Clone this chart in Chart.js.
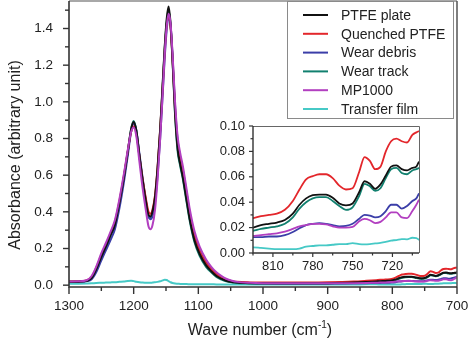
<!DOCTYPE html>
<html>
<head>
<meta charset="utf-8">
<script src="https://cdn.jsdelivr.net/npm/chart.js@4/dist/chart.umd.min.js"></script>
<style>
  html, body { margin: 0; padding: 0; background: #fff; }
  #wrap { position: relative; width: 474px; height: 354px; }
  #main { position: absolute; left: 0; top: 0; }
  #inset { position: absolute; left: 190px; top: 110px; }
</style>
</head>
<body>
<div id="wrap">
  <canvas id="main" width="474" height="354"></canvas>
  <canvas id="inset" width="240" height="175"></canvas>
</div>
<script>
// wave numbers (cm-1), shared by every spectrum
const wavenumber = [
  1300, 1285, 1272, 1265, 1258, 1250, 1243, 1236, 1229, 1222, 1215, 1209, 1204, 1200, 1196, 1191, 1186,
  1181, 1177, 1174, 1171, 1167, 1163, 1159, 1155, 1152, 1149, 1146, 1143, 1140, 1136, 1132, 1128, 1124,
  1118, 1113, 1106, 1098, 1088, 1080, 1072, 1064, 1057, 1048, 1040, 1020, 1000, 950, 900, 860, 840,
  825, 819, 813, 807, 801, 795, 790, 785, 780, 775, 770, 765, 760, 755, 750, 745, 741, 737, 733, 729,
  725, 721, 717, 713, 709, 705, 702, 700
];

const ptfePlate = [
  0.018, 0.019, 0.024, 0.038, 0.085, 0.155, 0.21, 0.27, 0.33, 0.45, 0.59, 0.73, 0.85, 0.89, 0.845, 0.705, 0.57,
  0.455, 0.382, 0.375, 0.40, 0.48, 0.64, 0.85, 1.11, 1.30, 1.45, 1.52, 1.43, 1.24, 0.94, 0.745, 0.66, 0.59,
  0.46, 0.355, 0.245, 0.17, 0.108, 0.076, 0.05, 0.034, 0.024, 0.017, 0.014, 0.011, 0.010, 0.010, 0.011, 0.014, 0.017,
  0.020, 0.022, 0.023, 0.024, 0.026, 0.031, 0.038, 0.043, 0.0455, 0.046, 0.046, 0.0435, 0.039, 0.0375, 0.039, 0.048, 0.0565, 0.0545, 0.0505, 0.054,
  0.061, 0.068, 0.069, 0.066, 0.065, 0.067, 0.068, 0.072
];
const quenchedPtfe = [
  0.020, 0.021, 0.027, 0.045, 0.095, 0.165, 0.22, 0.28, 0.345, 0.46, 0.60, 0.735, 0.835, 0.865, 0.83, 0.70, 0.575,
  0.47, 0.40, 0.39, 0.41, 0.49, 0.645, 0.85, 1.09, 1.28, 1.42, 1.48, 1.41, 1.24, 0.96, 0.77, 0.685, 0.615,
  0.485, 0.38, 0.265, 0.185, 0.12, 0.086, 0.059, 0.041, 0.030, 0.022, 0.018, 0.015, 0.014, 0.014, 0.016, 0.020, 0.024,
  0.0275, 0.029, 0.030, 0.031, 0.034, 0.041, 0.050, 0.058, 0.0605, 0.062, 0.062, 0.059, 0.053, 0.050, 0.051, 0.064, 0.0755, 0.0725, 0.066, 0.068,
  0.080, 0.088, 0.090, 0.088, 0.087, 0.093, 0.095, 0.096
];
const wearDebris = [
  0.017, 0.018, 0.022, 0.032, 0.07, 0.135, 0.19, 0.245, 0.305, 0.42, 0.565, 0.71, 0.835, 0.88, 0.845, 0.715, 0.58,
  0.46, 0.38, 0.36, 0.375, 0.45, 0.60, 0.80, 1.05, 1.24, 1.39, 1.46, 1.42, 1.26, 0.98, 0.79, 0.70, 0.63,
  0.50, 0.39, 0.275, 0.19, 0.125, 0.09, 0.062, 0.043, 0.031, 0.021, 0.016, 0.012, 0.010, 0.009, 0.009, 0.010, 0.011,
  0.0125, 0.0125, 0.013, 0.013, 0.014, 0.0165, 0.0195, 0.022, 0.023, 0.0235, 0.023, 0.022, 0.021, 0.0213, 0.023, 0.027, 0.030, 0.0295, 0.028, 0.029,
  0.033, 0.038, 0.038, 0.035, 0.037, 0.041, 0.043, 0.047
];
const wearTrack = [
  0.018, 0.019, 0.024, 0.038, 0.085, 0.155, 0.21, 0.27, 0.33, 0.45, 0.59, 0.73, 0.85, 0.895, 0.845, 0.70, 0.563,
  0.445, 0.372, 0.365, 0.39, 0.47, 0.63, 0.84, 1.10, 1.29, 1.43, 1.50, 1.42, 1.23, 0.93, 0.73, 0.65, 0.58,
  0.45, 0.345, 0.235, 0.16, 0.10, 0.07, 0.045, 0.030, 0.021, 0.015, 0.012, 0.010, 0.009, 0.009, 0.010, 0.012, 0.015,
  0.0175, 0.019, 0.020, 0.021, 0.023, 0.028, 0.035, 0.040, 0.043, 0.044, 0.044, 0.041, 0.037, 0.034, 0.036, 0.045, 0.0545, 0.0525, 0.049, 0.051,
  0.059, 0.066, 0.067, 0.063, 0.062, 0.065, 0.066, 0.067
];
const mp1000 = [
  0.020, 0.021, 0.028, 0.05, 0.10, 0.175, 0.23, 0.29, 0.355, 0.47, 0.61, 0.74, 0.835, 0.86, 0.815, 0.67, 0.525,
  0.405, 0.32, 0.305, 0.325, 0.41, 0.58, 0.80, 1.06, 1.26, 1.41, 1.48, 1.43, 1.27, 1.00, 0.81, 0.72, 0.65,
  0.52, 0.41, 0.295, 0.21, 0.14, 0.10, 0.07, 0.049, 0.035, 0.024, 0.018, 0.013, 0.011, 0.010, 0.010, 0.011, 0.012,
  0.0135, 0.014, 0.0148, 0.0155, 0.0168, 0.019, 0.021, 0.022, 0.023, 0.023, 0.0225, 0.021, 0.020, 0.020, 0.0205, 0.025, 0.0268, 0.0258, 0.0235, 0.0245,
  0.028, 0.032, 0.032, 0.028, 0.0275, 0.033, 0.038, 0.042
];
const transferFilm = [
  0.008, 0.008, 0.009, 0.010, 0.012, 0.013, 0.014, 0.015, 0.016, 0.018, 0.020, 0.023, 0.024, 0.022, 0.019, 0.016, 0.014,
  0.013, 0.013, 0.013, 0.014, 0.016, 0.018, 0.021, 0.026, 0.030, 0.028, 0.022, 0.016, 0.012, 0.009, 0.008, 0.007, 0.006,
  0.006, 0.005, 0.005, 0.005, 0.005, 0.005, 0.004, 0.004, 0.004, 0.004, 0.004, 0.004, 0.004, 0.004, 0.004, 0.004, 0.0045,
  0.0045, 0.004, 0.0035, 0.003, 0.003, 0.003, 0.0035, 0.005, 0.0055, 0.006, 0.006, 0.0065, 0.007, 0.007, 0.0078, 0.007, 0.0068, 0.007, 0.0075, 0.008,
  0.0088, 0.0098, 0.0102, 0.011, 0.0108, 0.012, 0.0118, 0.0103
];

const seriesNames = ['PTFE plate', 'Quenched PTFE', 'Wear debris', 'Wear track', 'MP1000', 'Transfer film'];
const seriesValues = [ptfePlate, quenchedPtfe, wearDebris, wearTrack, mp1000, transferFilm];
const seriesColors = ['#111111', '#e3262b', '#3b3ea8', '#11806f', '#b23fc0', '#46c9c6'];
const drawOrder = [1, 2, 3, 4, 0, 5]; // lower = drawn on top

const mainXTicks = [1300, 1200, 1100, 1000, 900, 800, 700];
const mainXMinor = [1250, 1150, 1050, 950, 850, 750];
const mainYTicks = [0, 0.2, 0.4, 0.6, 0.8, 1.0, 1.2, 1.4];
const mainYLabels = ['0.0', '0.2', '0.4', '0.6', '0.8', '1.0', '1.2', '1.4'];
const mainYMinor = [0.1, 0.3, 0.5, 0.7, 0.9, 1.1, 1.3, 1.5];

const insetXTicks = [810, 780, 750, 720];
const insetXMinor = [825, 795, 765, 735, 705];
const insetYTicks = [0, 0.02, 0.04, 0.06, 0.08, 0.10];
const insetYLabels = ['0.00', '0.02', '0.04', '0.06', '0.08', '0.10'];
const insetYMinor = [0.01, 0.03, 0.05, 0.07, 0.09];

const FONT = '"Liberation Sans", Arial, Helvetica, sans-serif';
const INK = '#222';

function makeDatasets(width){
  return seriesNames.map((name, k) => ({
    label: name,
    data: wavenumber.map((w, i) => ({x: w, y: seriesValues[k][i]})),
    borderColor: seriesColors[k],
    borderWidth: width,
    order: drawOrder[k],
    pointRadius: 0,
    fill: false,
    cubicInterpolationMode: 'monotone'
  }));
}

function tickMarks(ctx, scale, values, len, horizontal){
  values.forEach(v => {
    const p = scale.getPixelForValue(v);
    ctx.beginPath();
    if(horizontal){ ctx.moveTo(p, scale.top); ctx.lineTo(p, scale.top + len); }
    else { ctx.moveTo(scale.right, p); ctx.lineTo(scale.right - len, p); }
    ctx.stroke();
  });
}

const mainFrame = {
  id: 'mainFrame',
  afterDatasetsDraw(chart){
    const {ctx, chartArea: a, scales: {x, y}} = chart;
    ctx.save();
    // top + right border
    ctx.strokeStyle = '#a8a8a8'; ctx.lineWidth = 2;
    ctx.beginPath(); ctx.moveTo(a.left, a.top); ctx.lineTo(a.right, a.top); ctx.stroke();
    ctx.strokeStyle = '#555'; ctx.lineWidth = 1.5;
    ctx.beginPath(); ctx.moveTo(a.right, a.top); ctx.lineTo(a.right, a.bottom); ctx.stroke();
    // axes
    ctx.strokeStyle = '#333'; ctx.lineWidth = 1.6;
    ctx.beginPath(); ctx.moveTo(a.left, a.top); ctx.lineTo(a.left, a.bottom); ctx.lineTo(a.right, a.bottom); ctx.stroke();
    ctx.lineWidth = 1.4;
    tickMarks(ctx, x, mainXTicks, 7, true);
    tickMarks(ctx, x, mainXMinor, 4, true);
    tickMarks(ctx, y, mainYTicks, 6, false);
    tickMarks(ctx, y, mainYMinor, 4, false);

    // axis titles
    ctx.fillStyle = INK;
    ctx.font = '16px ' + FONT;
    ctx.textBaseline = 'middle';
    ctx.save();
    ctx.translate(16, 155);
    ctx.rotate(-Math.PI / 2);
    ctx.textAlign = 'center';
    ctx.fillText('Absorbance (arbitrary unit)', 0, 0);
    ctx.restore();

    const t1 = 'Wave number (cm', t2 = '-1', t3 = ')';
    ctx.font = '16px ' + FONT;
    const w1 = ctx.measureText(t1).width, w3 = ctx.measureText(t3).width;
    ctx.font = '10px ' + FONT;
    const w2 = ctx.measureText(t2).width;
    let sx = (a.left + a.right) / 2 - (w1 + w2 + w3) / 2 - 3;
    const ty = 331;
    ctx.textAlign = 'left';
    ctx.font = '16px ' + FONT; ctx.fillText(t1, sx, ty); sx += w1;
    ctx.font = '10px ' + FONT; ctx.fillText(t2, sx, ty - 6); sx += w2;
    ctx.font = '16px ' + FONT; ctx.fillText(t3, sx, ty);

    // legend
    const lx = 287, ly = 1, lw = 166, lh = 117;
    ctx.fillStyle = '#fff';
    ctx.fillRect(lx, ly, lw, lh);
    ctx.strokeStyle = '#8a8a8a'; ctx.lineWidth = 1;
    ctx.strokeRect(lx + 0.5, ly + 0.5, lw, lh);
    ctx.font = '14px ' + FONT;
    seriesNames.forEach((name, k) => {
      const yy = 15 + k * 18.8;
      ctx.strokeStyle = seriesColors[k]; ctx.lineWidth = 2;
      ctx.beginPath(); ctx.moveTo(303, yy); ctx.lineTo(328, yy); ctx.stroke();
      ctx.fillStyle = INK;
      ctx.fillText(name, 341, yy + 1);
    });
    ctx.restore();
  }
};

const insetFrame = {
  id: 'insetFrame',
  afterDatasetsDraw(chart){
    const {ctx, chartArea: a, scales: {x, y}} = chart;
    ctx.save();
    ctx.strokeStyle = '#666'; ctx.lineWidth = 1;
    ctx.beginPath(); ctx.moveTo(a.left, a.top + 0.5); ctx.lineTo(a.right + 0.5, a.top + 0.5); ctx.lineTo(a.right + 0.5, a.bottom); ctx.stroke();
    ctx.strokeStyle = '#333'; ctx.lineWidth = 1.4;
    ctx.beginPath(); ctx.moveTo(a.left, a.top); ctx.lineTo(a.left, a.bottom); ctx.lineTo(a.right, a.bottom); ctx.stroke();
    ctx.lineWidth = 1.2;
    tickMarks(ctx, x, insetXTicks, 4, true);
    tickMarks(ctx, x, insetXMinor, 2.5, true);
    tickMarks(ctx, y, insetYTicks, 4, false);
    tickMarks(ctx, y, insetYMinor, 2.5, false);
    ctx.restore();
  }
};

// fixed axis sizes, no extra room for edge labels
function fixSize(s, w, h){
  if(w != null) s.width = w;
  if(h != null) s.height = h;
  s.paddingLeft = s.paddingRight = s.paddingTop = s.paddingBottom = 0;
}

function axisX(min, max, ticks, pad, size, h){
  return {
    type: 'linear', reverse: true, min: min, max: max,
    afterFit(s){ fixSize(s, null, h); },
    afterBuildTicks(s){ s.ticks = ticks.map(v => ({value: v})); },
    grid: {display: false, drawTicks: false},
    border: {display: false},
    ticks: {padding: pad, autoSkip: false, maxRotation: 0, color: INK,
            font: {family: FONT, size: size}, callback: (v, i) => String(ticks[i])}
  };
}
function axisY(min, max, ticks, labels, pad, size, w){
  return {
    type: 'linear', min: min, max: max,
    afterFit(s){ fixSize(s, w, null); },
    afterBuildTicks(s){ s.ticks = ticks.map(v => ({value: v})); },
    grid: {display: false, drawTicks: false},
    border: {display: false},
    ticks: {padding: pad, autoSkip: false, color: INK,
            font: {family: FONT, size: size}, callback: (v, i) => labels[i]}
  };
}

new Chart(document.getElementById('main'), {
  type: 'line',
  data: {datasets: makeDatasets(2)},
  options: {
    responsive: false, animation: false,
    layout: {padding: {left: 0, right: 17, top: 1, bottom: 0}},
    plugins: {legend: {display: false}, tooltip: {enabled: false}},
    scales: {
      x: axisX(700, 1300, mainXTicks, 11, 13.5, 67),
      y: axisY(-0.01, 1.55, mainYTicks, mainYLabels, 16, 13.5, 69)
    }
  },
  plugins: [mainFrame]
});

new Chart(document.getElementById('inset'), {
  type: 'line',
  data: {datasets: makeDatasets(1.8)},
  options: {
    responsive: false, animation: false,
    layout: {padding: {left: 0, right: 11, top: 16, bottom: 0}},
    plugins: {legend: {display: false}, tooltip: {enabled: false}},
    scales: {
      x: axisX(700, 825, insetXTicks, 6, 13, 32),
      y: axisY(0, 0.10, insetYTicks, insetYLabels, 8, 13, 63)
    }
  },
  plugins: [insetFrame]
});
</script>
</body>
</html>
